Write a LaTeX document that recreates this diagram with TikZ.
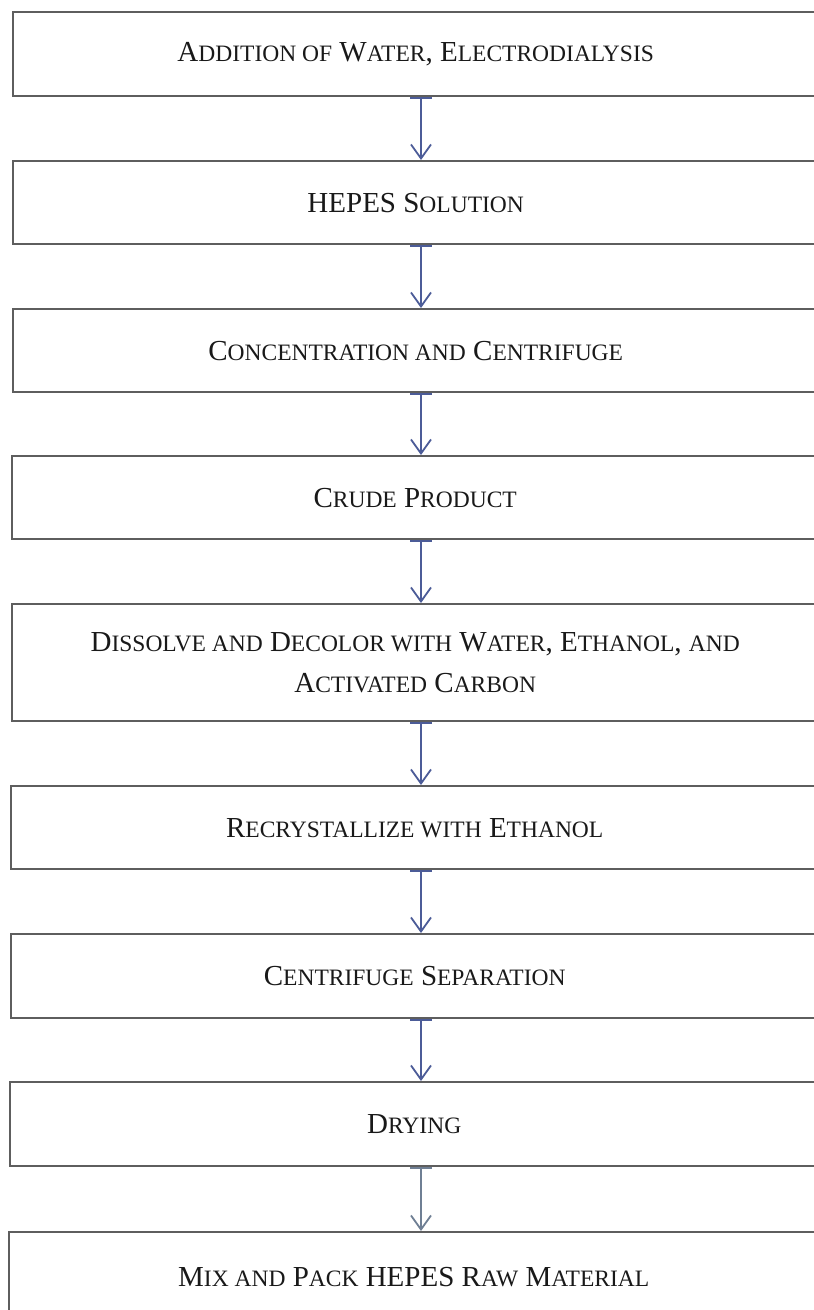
\documentclass[tikz,border=0pt]{standalone}
\usepackage{fontspec}
\setmainfont{Liberation Serif}
\usetikzlibrary{arrows.meta}
\definecolor{boxgray}{HTML}{5E5E5E}
\definecolor{arrowblue}{HTML}{4C5C98}
\definecolor{arrowgray}{HTML}{6F7F94}
\newcommand{\sm}[1]{{\fontsize{23.5}{27}\selectfont #1}}
\tikzset{
  stepbox/.style={draw=boxgray, line width=2.4pt, rectangle, anchor=north west,
    align=center, inner sep=0pt, font=\fontsize{29}{41}\selectfont, text=black!90},
  flow/.style={draw=arrowblue, line width=1.8pt,
    {Bar[width=22pt,line width=1.8pt]}-{Straight Barb[length=14pt,width=20pt,line width=1.8pt]}},
}
\begin{document}
\begin{tikzpicture}[x=1pt,y=-1pt]
\useasboundingbox (0,0) rectangle (814,1310);
\fill[white] (0,0) rectangle (814,1310);
\coordinate (ax) at (421,0);
\node[stepbox, minimum width=805pt, minimum height=84pt] (b1) at (12,11)
  {A\sm{DDITION OF} W\sm{ATER}, E\sm{LECTRODIALYSIS}};
\node[stepbox, minimum width=805pt, minimum height=83pt] (b2) at (12,160)
  {HEPES S\sm{OLUTION}};
\node[stepbox, minimum width=805pt, minimum height=83pt] (b3) at (12,308)
  {C\sm{ONCENTRATION AND} C\sm{ENTRIFUGE}};
\node[stepbox, minimum width=806pt, minimum height=83pt] (b4) at (11,455)
  {C\sm{RUDE} P\sm{RODUCT}};
\node[stepbox, minimum width=806pt, minimum height=117pt] (b5) at (11,603)
  {D\sm{ISSOLVE AND} D\sm{ECOLOR WITH} W\sm{ATER}, E\sm{THANOL}, \sm{AND}\\ A\sm{CTIVATED} C\sm{ARBON}};
\node[stepbox, minimum width=807pt, minimum height=83pt] (b6) at (10,785)
  {R\sm{ECRYSTALLIZE WITH} E\sm{THANOL}};
\node[stepbox, minimum width=807pt, minimum height=84pt] (b7) at (10,933)
  {C\sm{ENTRIFUGE} S\sm{EPARATION}};
\node[stepbox, minimum width=808pt, minimum height=84pt] (b8) at (9,1081)
  {D\sm{RYING}};
\node[stepbox, minimum width=809pt, minimum height=90pt] (b9) at (8,1231)
  {M\sm{IX AND} P\sm{ACK} HEPES R\sm{AW} M\sm{ATERIAL}};
\draw[flow] (b1.south -| ax) -- (b2.north -| ax);
\draw[flow] (b2.south -| ax) -- (b3.north -| ax);
\draw[flow] (b3.south -| ax) -- (b4.north -| ax);
\draw[flow] (b4.south -| ax) -- (b5.north -| ax);
\draw[flow] (b5.south -| ax) -- (b6.north -| ax);
\draw[flow] (b6.south -| ax) -- (b7.north -| ax);
\draw[flow] (b7.south -| ax) -- (b8.north -| ax);
\draw[flow, draw=arrowgray] (b8.south -| ax) -- (b9.north -| ax);
\end{tikzpicture}
\end{document}
